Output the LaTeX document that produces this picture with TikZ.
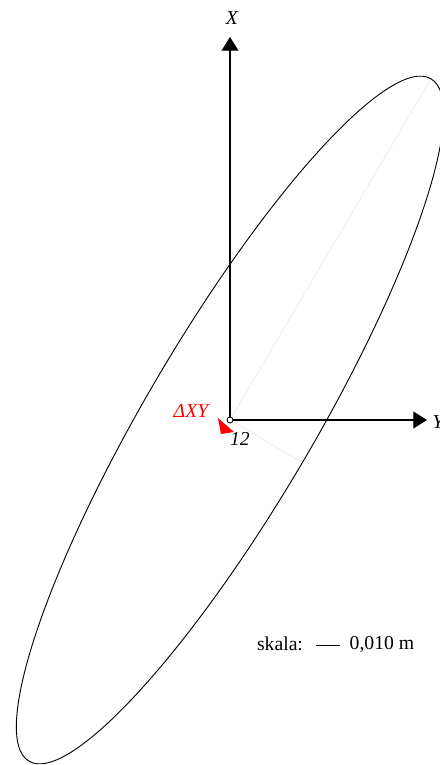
\documentclass[tikz,border=0pt]{standalone}
\usepackage{fontspec}
\setmainfont{Liberation Serif}
\usetikzlibrary{arrows.meta,calc}
\usetikzlibrary{positioning}

\begin{document}
\begin{tikzpicture}[x=0.025cm,y=0.025cm,
        axis/.style={line width=0.8pt,-{Triangle[length=0.34cm,width=0.42cm]}},
        halfaxis/.style={color=black!8,line width=0.5pt},
        lbl/.style={font=\fontsize{14}{16}\selectfont,inner sep=1pt}]
                \useasboundingbox (-230,-345) rectangle (210,420);
                \clip (-230,-345) rectangle (210,420);
                \coordinate (O) at (0,0);
                \coordinate (Xtip) at (0,383);
                \coordinate (Ytip) at (197,0);
                \coordinate (Aend) at (59.5:395);
                \coordinate (Bend) at (-30.5:84);
                % polos ellipsy
                \draw[halfaxis] (O) -- (Aend);
                \draw[halfaxis] (O) -- (Bend);
                \draw[line width=0.65pt,rotate=59.5] (O) ellipse (396 and 84);
                % osie
                \draw[axis] (O) -- (Xtip);
                \draw[axis] (O) -- (Ytip);
                \node[lbl,font=\fontsize{14}{16}\selectfont\itshape] (xlab) at (2,402) {X};
                \node[lbl,font=\fontsize{14}{16}\selectfont\itshape] (ylab) at (208,-2) {Y};
                % przesuniecie
                \fill[red] (-12,2) -- (4,-12) -- (-9,-14) -- cycle;
                \filldraw[fill=white,line width=0.6pt] (O) circle (3);
                \node[lbl,font=\fontsize{14}{16}\selectfont\itshape,red] (dxy) at (-39,9) {ΔXY};
                \node[lbl,font=\fontsize{14}{16}\selectfont\itshape] (pkt) at (10,-19) {12};
                % skala
                \node[lbl] (skala) at (50,-224) {skala:};
                \coordinate (barA) at (86,-225);
                \coordinate (barB) at (110,-225);
                \draw[line width=0.6pt] (barA) -- (barB);
                \node[lbl,anchor=west] (len) at (118,-224) {0,010 m};
\end{tikzpicture}
\end{document}
